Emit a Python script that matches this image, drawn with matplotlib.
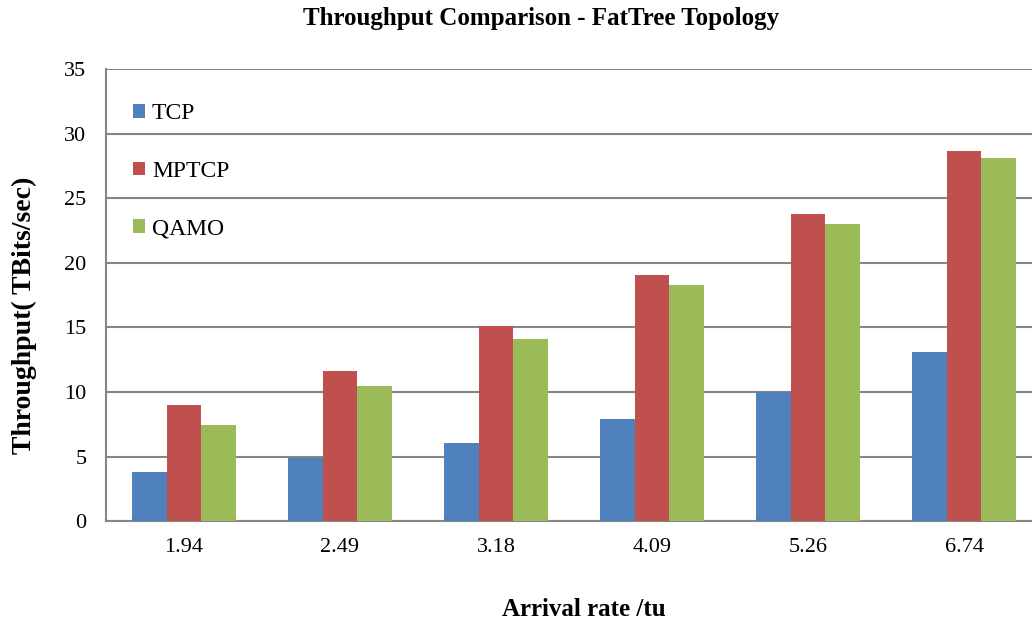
import numpy as np
import matplotlib.pyplot as plt

plt.rcParams['font.family'] = ['Liberation Serif', 'DejaVu Serif']

# arrival rates (categories) and throughput per protocol
rates = ['1.94', '2.49', '3.18', '4.09', '5.26', '6.74']
tcp = [3.8, 4.9, 6.05, 7.9, 10.0, 13.1]
mptcp = [9.0, 11.6, 15.1, 19.05, 23.8, 28.7]
qamo = [7.45, 10.5, 14.1, 18.3, 23.05, 28.1]

fig = plt.figure(figsize=(10.32, 6.24), dpi=100)
ax = fig.add_axes([0.1027, 0.165, 0.907, 0.724])

x = np.arange(len(rates))
w = 0.222
ax.bar(x - w, tcp, w, color='#4F81BD', label='TCP', zorder=3)
ax.bar(x, mptcp, w, color='#C0504D', label='MPTCP', zorder=3)
ax.bar(x + w, qamo, w, color='#9BBB59', label='QAMO', zorder=3)

ax.set_xlim(-0.5, len(rates) - 0.5)
ax.set_ylim(0, 35)
ax.set_yticks(range(0, 36, 5))
ax.set_xticks(x)
ax.set_xticklabels(rates)
ax.tick_params(length=0, labelsize=16, pad=12)
ax.tick_params(axis='y', pad=14)
ax.yaxis.grid(True, color='#868686', linewidth=1.5, zorder=0)

for s in ['top', 'right']:
    ax.spines[s].set_visible(False)
for s in ['left', 'bottom']:
    ax.spines[s].set_color('#868686')
    ax.spines[s].set_linewidth(1.5)

fig.text(541 / 1032, 1 - 18 / 624, 'Throughput Comparison - FatTree Topology',
         fontsize=18, fontweight='bold', ha='center', va='center')
ax.set_xlabel('Arrival rate /tu', fontsize=18, fontweight='bold', labelpad=30,
              x=0.511)
ax.set_ylabel('Throughput( TBits/sec)', fontsize=20, fontweight='bold',
              labelpad=20, y=0.456)

ax.legend(loc='upper left', bbox_to_anchor=(0.0, 0.985), frameon=False,
          fontsize=17, handlelength=0.5, handleheight=0.5, labelspacing=1.55,
          handletextpad=0.3, borderaxespad=0.5, borderpad=0.65)

plt.savefig('out.png')
